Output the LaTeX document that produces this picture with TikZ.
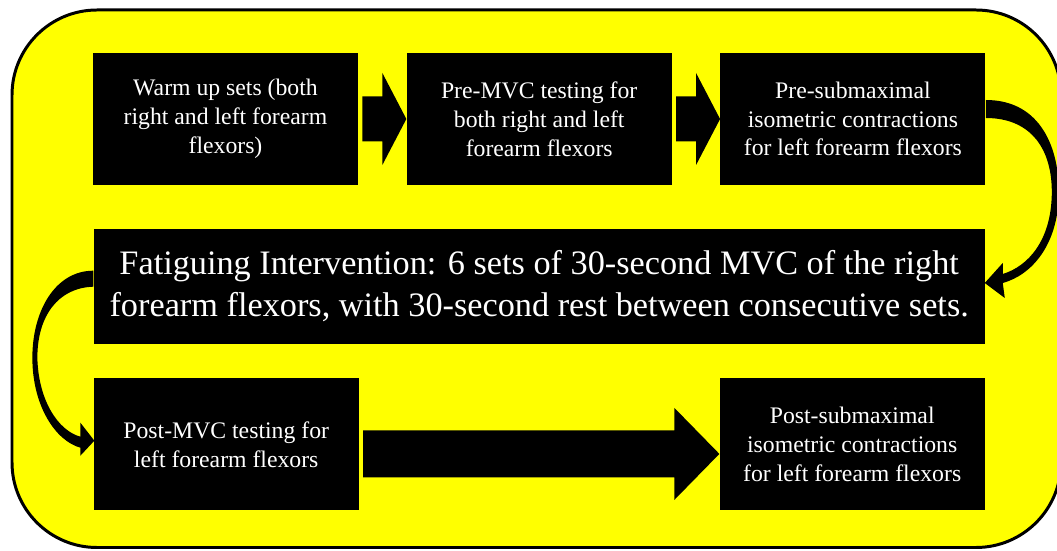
\documentclass[tikz,border=0pt]{standalone}
\usepackage{fontspec}
\setmainfont{Liberation Serif}
\newfontfamily\boxfont{Liberation Serif}
\usepackage{xcolor}
\usepackage{tikz}
\usetikzlibrary{arrows.meta,positioning,calc}
\definecolor{bgyellow}{RGB}{255,255,0}

% straight block arrow: tail, tip, shaft half width, head half width, head length
\newcommand{\fatarrow}[5]{%
  \fill let \p1=(#1), \p2=(#2) in
    (\x1,\y2+#3) -- (\x2-#5,\y2+#3) -- (\x2-#5,\y2+#4) -- (\x2,\y2)
    -- (\x2-#5,\y2-#4) -- (\x2-#5,\y2-#3) -- (\x1,\y2-#3) -- cycle;}

\begin{document}
\begin{tikzpicture}[node distance=8.6mm and 9.6mm,box/.style={fill=black,text=white,align=center,inner sep=0pt,minimum width=5.3cm,minimum height=2.64cm,font=\boxfont\fontsize{13.5}{16.4}\selectfont},>=Latex]
\useasboundingbox (0,0) rectangle (21.14,11);
\draw[line width=1.7pt,fill=bgyellow,rounded corners=1.7cm] (0.24,0.05) rectangle (21.22,10.8);
\node[box] (warm) at (4.51,8.62) {Warm up sets (both\\right and left forearm\\flexors)};
\node[box,right=of warm] (pre) {Pre-MVC testing for\\both right and left\\forearm flexors};
\node[box,right=of pre] (sub) {Pre-submaximal\\isometric contractions\\for left forearm flexors};
\node[box,below=of pre,minimum width=17.82cm,minimum height=2.3cm,font=\boxfont\fontsize{19.5}{23.8}\selectfont] (fat) {Fatiguing Intervention: 6 sets of 30-second MVC of the right\\forearm flexors, with 30-second rest between consecutive sets.};
\node[box,below right=6.8mm and 0mm of fat.south west] (post) {Post-MVC testing for\\left forearm flexors};
\node[box,below left=6.8mm and 0mm of fat.south east] (postsub) {Post-submaximal\\isometric contractions\\for left forearm flexors};
% block arrows
\fatarrow{[xshift=0.08cm]warm.east}{pre.west}{0.45cm}{0.92cm}{0.48cm}
\fatarrow{[xshift=0.08cm]pre.east}{sub.west}{0.45cm}{0.92cm}{0.48cm}
\fatarrow{[xshift=0.08cm]post.east}{[yshift=-0.19cm]postsub.west}{0.47cm}{0.92cm}{0.9cm}
% curved arrow on the right
\begin{scope}[shift={(sub.east)}]
\fill (0,0.38) .. controls (1.12,0.38) and (1.48,-0.62) .. (1.46,-1.52)
  .. controls (1.44,-2.52) and (0.92,-3.12) .. (0.34,-3.28)
  -- (0.38,-3.58) -- (-0.02,-3.28) -- (0.34,-2.88) -- (0.34,-3.1)
  .. controls (0.86,-2.94) and (1.3,-2.42) .. (1.32,-1.52)
  .. controls (1.34,-0.62) and (0.92,0.02) .. (0,0.02) -- cycle;
\end{scope}
% curved arrow on the left
\begin{scope}[shift={(fat.west)}]
\fill (0,0.31) .. controls (-0.76,0.31) and (-1.22,-0.49) .. (-1.22,-1.43)
  .. controls (-1.22,-2.39) and (-0.76,-3.09) .. (-0.26,-3.23)
  -- (-0.26,-3.39) -- (0.02,-3.09) -- (-0.26,-2.73) -- (-0.26,-3.01)
  .. controls (-0.7,-2.89) and (-1.1,-2.29) .. (-1.12,-1.43)
  .. controls (-1.12,-0.59) and (-0.7,-0.03) .. (0,-0.01) -- cycle;
\end{scope}
\end{tikzpicture}
\end{document}
